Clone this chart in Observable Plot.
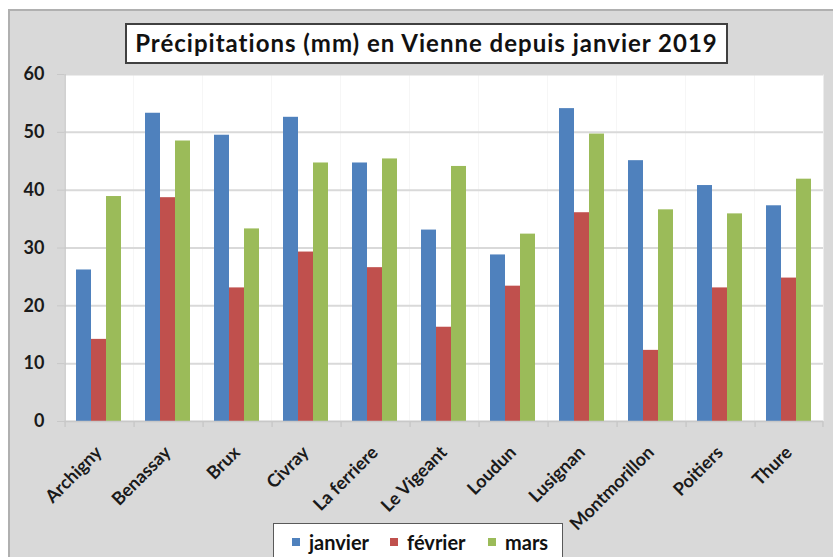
<!DOCTYPE html>
<html><head><meta charset="utf-8">
<script src="https://cdn.jsdelivr.net/npm/d3@7"></script>
<script src="https://cdn.jsdelivr.net/npm/@observablehq/plot@0.6"></script>
<style>
html,body{margin:0;padding:0;background:#fff;}
#wrap{position:relative;width:833px;height:557px;overflow:hidden;font-family:Lato,"Open Sans",sans-serif;}
#bg{position:absolute;left:8px;top:9px;width:840px;height:560px;background:#d9d9d9;border-left:2px solid #b0b0b0;border-top:2px solid #b0b0b0;}
#title{position:absolute;left:125px;top:23px;width:603px;height:41px;background:#fff;border:2px solid #404040;box-sizing:border-box;text-align:center;font-weight:bold;font-size:24px;letter-spacing:1px;line-height:36px;color:#111;white-space:nowrap;}
#chart{position:absolute;left:0;top:0;}
#legend{position:absolute;left:273px;top:523px;width:290px;height:40px;background:#fff;border:1.5px solid #595959;box-sizing:border-box;font-weight:bold;font-size:20px;color:#111;}
.item{position:absolute;top:5px;display:flex;align-items:center;height:26px;}
.sw{width:8px;height:8px;margin-right:9px;}
</style>
</head><body>
<div id="wrap">
  <div id="bg"></div>
  <div id="title"></div>
  <div id="chart"></div>
  <div id="legend"></div>
</div>
<script>
const titleText = "Précipitations (mm) en Vienne depuis janvier 2019";
const cities = ["Archigny","Benassay","Brux","Civray","La ferriere","Le Vigeant","Loudun","Lusignan","Montmorillon","Poitiers","Thure"];
const months = ["janvier","février","mars"];
const janvier = [26.2,53.3,49.5,52.6,44.7,33.1,28.8,54.1,45.1,40.8,37.3];
const fevrier = [14.2,38.7,23.1,29.3,26.6,16.3,23.4,36.1,12.3,23.1,24.8];
const mars    = [38.9,48.5,33.3,44.7,45.4,44.1,32.4,49.7,36.6,35.9,41.9];
const colors = ["#4f81bd","#c0504d","#9bbb59"];
const yTicks = [0,10,20,30,40,50,60];

const series = [janvier, fevrier, mars];
const rows = [];
cities.forEach((c,i) => months.forEach((m,j) => rows.push({city:c, month:m, value:series[j][i]})));

const W = 833, H = 520, ML = 63, MR = 9, MT = 74, MB = 99;
const PO = 0.7075;
const fw = (W - ML - MR) / cities.length;
const edge = fw * (PO + 0.5) / (months.length + 2 * PO);

document.getElementById("title").textContent = titleText;

const chart = Plot.plot({
  width: W, height: H,
  marginLeft: ML, marginRight: MR, marginTop: MT, marginBottom: MB,
  style: {background: "transparent", fontFamily: "Lato, 'Open Sans', sans-serif", overflow: "visible"},
  fx: {domain: cities, paddingInner: 0, paddingOuter: 0, label: null, axis: null},
  x: {domain: months, paddingInner: 0, paddingOuter: PO, axis: null},
  y: {domain: [0, 60], label: null},
  color: {domain: months, range: colors},
  marks: [
    Plot.frame({fill: "white", stroke: null}),
    Plot.gridY(yTicks, {stroke: "#d9d9d9", strokeOpacity: 1, strokeWidth: 2}),
    Plot.barY(rows, {fx: "city", x: "month", y: "value", fill: "month"}),
    Plot.ruleY([0], {stroke: "#c8c8c8", strokeWidth: 1.5}),
    Plot.ruleX([cities[0]], {fx: d => d, x: () => months[0], y1: 0, y2: 60, dx: -edge, stroke: "#c8c8c8", strokeWidth: 1.5}),
    Plot.ruleX(cities, {fx: d => d, x: () => months[0], y1: 0, y2: 0, dx: -edge, insetBottom: -6, stroke: "#c8c8c8", strokeWidth: 1.5}),
    Plot.ruleX([cities[cities.length-1]], {fx: d => d, x: () => months[months.length-1], y1: 0, y2: 0, dx: edge, insetBottom: -6, stroke: "#c8c8c8", strokeWidth: 1.5}),
    Plot.axisY(yTicks, {tickSize: 7, tickPadding: 13, fontSize: 18, fontWeight: "bold", stroke: "#c8c8c8", fill: "#1a1a1a"}),
    Plot.text(cities, {fx: d => d, text: d => d, frameAnchor: "bottom", rotate: -45, textAnchor: "end", lineAnchor: "middle", dx: 0, dy: 28, fontSize: 18, fontWeight: "bold", fill: "#1a1a1a"})
  ]
});
document.getElementById("chart").appendChild(chart);

const legend = document.getElementById("legend");
const legendX = [18, 116, 214];
months.forEach((m, i) => {
  const it = document.createElement("div"); it.className = "item"; it.style.left = legendX[i] + "px";
  const sw = document.createElement("div"); sw.className = "sw"; sw.style.background = colors[i];
  const tx = document.createElement("span"); tx.textContent = m;
  it.appendChild(sw); it.appendChild(tx); legend.appendChild(it);
});
</script>
</body></html>
